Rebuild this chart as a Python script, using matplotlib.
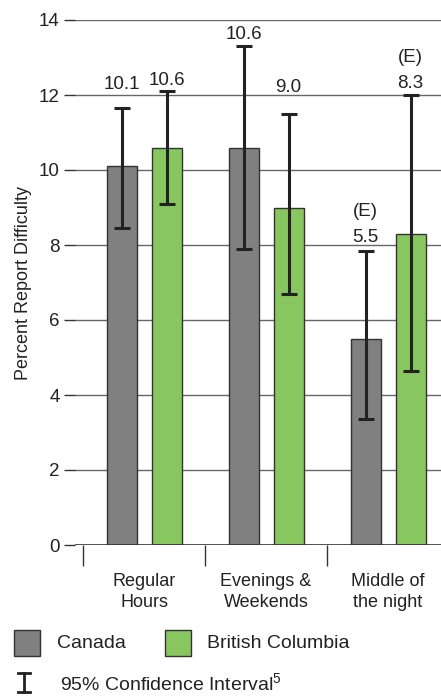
import numpy as np
import matplotlib.pyplot as plt
from matplotlib.patches import Rectangle
from matplotlib.lines import Line2D

plt.rcParams['font.family'] = ['Liberation Sans', 'DejaVu Sans']

categories = ['Regular\nHours', 'Evenings &\nWeekends', 'Middle of\nthe night']
canada = [10.1, 10.6, 5.5]
canada_lo = [8.45, 7.9, 3.35]
canada_hi = [11.65, 13.3, 7.85]
bc = [10.6, 9.0, 8.3]
bc_lo = [9.1, 6.7, 4.65]
bc_hi = [12.1, 11.5, 12.0]
canada_flag = ['', '', '(E)']
bc_flag = ['', '', '(E)']

# baseline of the value labels (data units), as placed in the original
canada_lab_y = [12.16, 13.49, 8.08]
bc_lab_y = [12.27, 12.08, 12.19]

gray = '#808080'
green = '#88c660'
dark = '#222222'

fig = plt.figure(figsize=(4.41, 6.96), dpi=100)
ax = fig.add_axes([75 / 441, 1 - 545 / 696, 1 - 75 / 441, 525 / 696])

x = np.arange(len(categories)) + 0.5
off = 22.5 / 122
w = 30 / 122

ax.bar(x - off, canada, w, color=gray, edgecolor='#333333', linewidth=1, zorder=3)
ax.bar(x + off, bc, w, color=green, edgecolor='#333333', linewidth=1, zorder=3)

for xs, vals, lo, hi, laby, flags in [(x - off, canada, canada_lo, canada_hi, canada_lab_y, canada_flag),
                                      (x + off, bc, bc_lo, bc_hi, bc_lab_y, bc_flag)]:
    yerr = [np.array(vals) - np.array(lo), np.array(hi) - np.array(vals)]
    ax.errorbar(xs, vals, yerr=yerr, fmt='none', ecolor=dark, elinewidth=2.2,
                capsize=6, capthick=2.2, zorder=4)
    for xi, v, ly, fl in zip(xs, vals, laby, flags):
        ax.text(xi, ly, f'{v:.1f}', ha='center', va='baseline', fontsize=13.5,
                color='#222222', zorder=5)
        if fl:
            ax.text(xi, ly + 0.7, fl, ha='center', va='baseline', fontsize=13.5,
                    color='#222222', zorder=5)

ax.set_xlim(-8 / 122, 358 / 122)
ax.set_ylim(0, 14)
ax.set_yticks(range(0, 15, 2))
ax.tick_params(axis='y', length=8, width=1, color='#333333', labelsize=13.5, pad=3,
               labelcolor='#222222')
for yv in range(2, 15, 2):
    ax.axhline(yv, color='#666666', linewidth=1, zorder=1)
ax.axhline(0, color='#333333', linewidth=1.2, zorder=4)

ax.set_xticks([0, 1, 2])
ax.set_xticklabels([])
ax.tick_params(axis='x', direction='out', length=15, width=1, color='#333333')
for xi, lab in zip(x, categories):
    ax.text(xi, -0.75, lab, ha='center', va='top', fontsize=13, color='#222222',
            linespacing=1.3)

for s in ax.spines.values():
    s.set_visible(False)

ax.set_ylabel('Percent Report Difficulty', fontsize=13, color='#222222', labelpad=5)

# legend drawn by hand in figure pixels
def px(xp, yp):
    return xp / 441, 1 - yp / 696

fig.patches.append(Rectangle(px(14, 656), 26 / 441, 26 / 696, transform=fig.transFigure,
                             facecolor=gray, edgecolor='#333333', linewidth=1))
fig.text(*px(57, 643), 'Canada', fontsize=14, va='center', color='#222222')
fig.patches.append(Rectangle(px(165, 656), 26 / 441, 26 / 696, transform=fig.transFigure,
                             facecolor=green, edgecolor='#333333', linewidth=1))
fig.text(*px(207, 643), 'British Columbia', fontsize=14, va='center', color='#222222')

fig.lines.append(Line2D([24 / 441, 24 / 441], [1 - 673 / 696, 1 - 692 / 696],
                        transform=fig.transFigure, color=dark, linewidth=2))
for yp in (673, 692):
    fig.lines.append(Line2D([18 / 441, 30 / 441], [1 - yp / 696, 1 - yp / 696],
                            transform=fig.transFigure, color=dark, linewidth=2))
fig.text(*px(60, 684), '95% Confidence Interval$^{\\mathregular{5}}$', fontsize=14,
         va='center', color='#222222')

fig.savefig('out.png', dpi=100)
